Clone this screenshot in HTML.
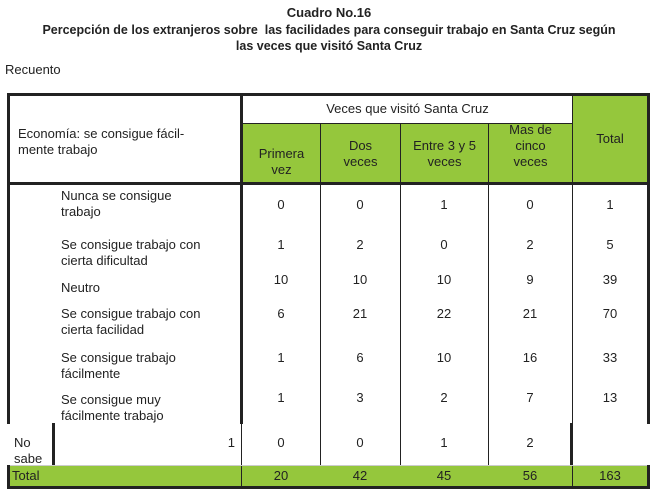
<!DOCTYPE html>
<html><head><meta charset="utf-8"><style>
body{margin:0;width:658px;height:490px;background:#fff;position:relative;overflow:hidden;font-family:"Liberation Sans",sans-serif;color:#222}
div{position:absolute}
.t{font-size:13px;font-weight:bold;text-align:center;left:0;width:658px}
.l{font-size:13px;line-height:16px}
.v{font-size:13px;text-align:center;width:60px}
.g{background:#95c73c}
.b{background:#222}
</style></head><body>
<div class="t" style="top:5px">Cuadro No.16</div>
<div class="t" style="top:23px;font-size:12.5px">Percepción de los extranjeros sobre&nbsp; las facilidades para conseguir trabajo en Santa Cruz según</div>
<div class="t" style="top:39px;font-size:12.5px">las veces que visitó Santa Cruz</div>
<div class="l" style="left:5px;top:62px">Recuento</div>

<!-- green areas -->
<div class="g" style="left:243px;top:124px;width:329px;height:59px"></div>
<div class="g" style="left:573px;top:95px;width:74px;height:88px"></div>
<div class="g" style="left:9px;top:466px;width:638px;height:20px"></div>

<!-- borders -->
<div class="b" style="left:7px;top:93px;width:643px;height:3px"></div>
<div class="b" style="left:7px;top:93px;width:3px;height:331px"></div>
<div class="b" style="left:647px;top:93px;width:3px;height:331px"></div>
<div class="b" style="left:647px;top:465px;width:3px;height:23px"></div>
<div class="b" style="left:240px;top:93px;width:3px;height:331px"></div>
<div class="b" style="left:241px;top:424px;width:1px;height:62px"></div>
<div class="b" style="left:7px;top:182px;width:643px;height:3px"></div>
<div class="b" style="left:7px;top:486px;width:643px;height:3px"></div>
<div class="b" style="left:7px;top:465px;width:3px;height:23px"></div>
<div class="b" style="left:52px;top:423px;width:3px;height:43px"></div>
<div class="b" style="left:570px;top:423px;width:3px;height:43px"></div>
<div class="b" style="left:242px;top:123px;width:331px;height:1px"></div>
<div class="b" style="left:320px;top:123px;width:1px;height:343px"></div>
<div class="b" style="left:400px;top:123px;width:1px;height:343px"></div>
<div class="b" style="left:488px;top:123px;width:1px;height:343px"></div>
<div class="b" style="left:572px;top:93px;width:1px;height:331px"></div>
<div class="b" style="left:572px;top:466px;width:1px;height:20px"></div>
<div style="left:10px;top:465px;width:637px;height:1px;background:#ccc"></div>

<!-- header text -->
<div class="l" style="left:18px;top:126px">Economía: se consigue fácil-<br>mente trabajo</div>
<div class="l" style="left:243px;top:101px;width:329px;text-align:center">Veces que visitó Santa Cruz</div>
<div class="l" style="left:243px;top:146px;width:77px;text-align:center">Primera<br>vez</div>
<div class="l" style="left:321px;top:138px;width:79px;text-align:center">Dos<br>veces</div>
<div class="l" style="left:401px;top:138px;width:87px;text-align:center">Entre 3 y 5<br>veces</div>
<div class="l" style="left:489px;top:122px;width:83px;text-align:center">Mas de<br>cinco<br>veces</div>
<div class="l" style="left:573px;top:131px;width:74px;text-align:center">Total</div>

<!-- row labels -->
<div class="l" style="left:61px;top:188px">Nunca se consigue<br>trabajo</div>
<div class="l" style="left:61px;top:237px">Se consigue trabajo con<br>cierta dificultad</div>
<div class="l" style="left:61px;top:280px">Neutro</div>
<div class="l" style="left:61px;top:306px">Se consigue trabajo con<br>cierta facilidad</div>
<div class="l" style="left:61px;top:350px">Se consigue trabajo<br>fácilmente</div>
<div class="l" style="left:61px;top:392px">Se consigue muy<br>fácilmente trabajo</div>
<div class="l" style="left:14px;top:435px">No<br>sabe</div>
<div class="l" style="left:200px;top:435px;width:35px;text-align:right">1</div>
<div class="l" style="left:12px;top:468px">Total</div>

<!-- values -->
<div class="v" style="left:251px;top:197px">0</div><div class="v" style="left:330px;top:197px">0</div><div class="v" style="left:414px;top:197px">1</div><div class="v" style="left:500px;top:197px">0</div><div class="v" style="left:580px;top:197px">1</div>
<div class="v" style="left:251px;top:237px">1</div><div class="v" style="left:330px;top:237px">2</div><div class="v" style="left:414px;top:237px">0</div><div class="v" style="left:500px;top:237px">2</div><div class="v" style="left:580px;top:237px">5</div>
<div class="v" style="left:251px;top:272px">10</div><div class="v" style="left:330px;top:272px">10</div><div class="v" style="left:414px;top:272px">10</div><div class="v" style="left:500px;top:272px">9</div><div class="v" style="left:580px;top:272px">39</div>
<div class="v" style="left:251px;top:306px">6</div><div class="v" style="left:330px;top:306px">21</div><div class="v" style="left:414px;top:306px">22</div><div class="v" style="left:500px;top:306px">21</div><div class="v" style="left:580px;top:306px">70</div>
<div class="v" style="left:251px;top:350px">1</div><div class="v" style="left:330px;top:350px">6</div><div class="v" style="left:414px;top:350px">10</div><div class="v" style="left:500px;top:350px">16</div><div class="v" style="left:580px;top:350px">33</div>
<div class="v" style="left:251px;top:390px">1</div><div class="v" style="left:330px;top:390px">3</div><div class="v" style="left:414px;top:390px">2</div><div class="v" style="left:500px;top:390px">7</div><div class="v" style="left:580px;top:390px">13</div>
<div class="v" style="left:251px;top:435px">0</div><div class="v" style="left:330px;top:435px">0</div><div class="v" style="left:414px;top:435px">1</div><div class="v" style="left:500px;top:435px">2</div>
<div class="v" style="left:251px;top:468px">20</div><div class="v" style="left:330px;top:468px">42</div><div class="v" style="left:414px;top:468px">45</div><div class="v" style="left:500px;top:468px">56</div><div class="v" style="left:580px;top:468px">163</div>
</body></html>
